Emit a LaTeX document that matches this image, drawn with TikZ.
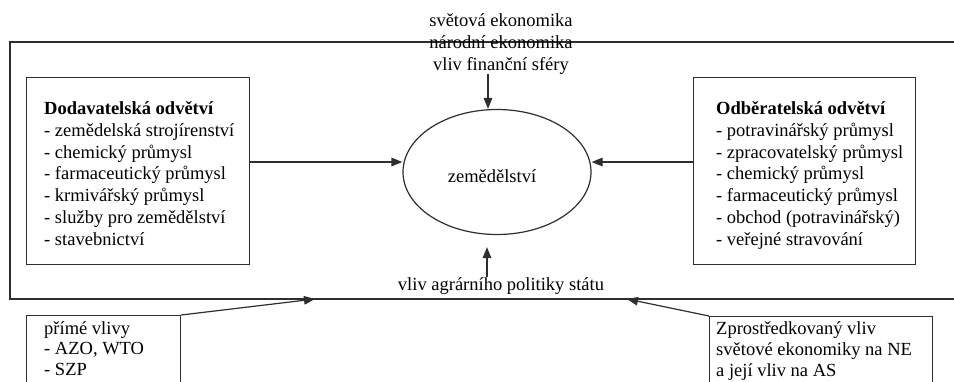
\documentclass[tikz,border=0pt]{standalone}
\usepackage{fontspec}
\setmainfont{Liberation Serif}
\usetikzlibrary{arrows.meta,shapes.geometric,calc}
\begin{document}
\begin{tikzpicture}[x=1pt,y=-1pt,
  ln/.style={draw=black!82,line width=1.2pt},
  arr/.style={ln,-{Triangle[length=11pt,width=8.5pt]}},
  box/.style={ln,rectangle,inner sep=0pt,anchor=north west},
  % multi-line text nodes are anchored at the baseline of their last line
  txt/.style={inner sep=0pt,anchor=base west,align=left,
    font=\fontsize{18.5}{21.7}\selectfont},
  ctxt/.style={txt,anchor=base,align=center},
]
\clip (0,0) rectangle (954,381);
\fill[white] (0,0) rectangle (954,381);

% outer frame (open to the right)
\draw[ln] (954,42) -- (10,42) -- (10,299) -- (954,299);
\coordinate (fl) at (315,299);
\coordinate (fr) at (627,299);

% central node
\node[ellipse,ln,inner sep=0pt,minimum width=188pt,minimum height=125pt] (el) at (497,172) {};
\node[ctxt] (agri) at (492,182) {zemědělství};

% supplier branches
\node[box,minimum width=223pt,minimum height=187pt] (sup) at (26,77) {};
\node[txt] (supT) at (44,245) {\textbf{Dodavatelská odvětví}\\
- zemědelská strojírenství\\
- chemický průmysl\\
- farmaceutický průmysl\\
- krmivářský průmysl\\
- služby pro zemědělství\\
- stavebnictví};

% customer branches
\node[box,minimum width=222pt,minimum height=187pt] (cus) at (693,77) {};
\node[txt] (cusT) at (716,245) {\textbf{Odběratelská odvětví}\\
- potravinářský průmysl\\
- zpracovatelský průmysl\\
- chemický průmysl\\
- farmaceutický průmysl\\
- obchod (potravinářský)\\
- veřejné stravování};

% external economy
\node[ctxt] (ext) at (501,70) {světová ekonomika\\národní ekonomika\\vliv finanční sféry};

% state policy
\node[ctxt] (pol) at (501,290) {vliv agrárního politiky státu};

% direct and mediated influences
\node[box,minimum width=154pt,minimum height=120pt] (dir) at (26,315) {};
\node[txt,font=\fontsize{18.5}{20.5}\selectfont] (dirT) at (44,375) {přímé vlivy\\- AZO, WTO\\- SZP};
\node[box,minimum width=223pt,minimum height=120pt] (med) at (709,316) {};
\node[txt,font=\fontsize{18.5}{20.8}\selectfont] (medT) at (716,376) {Zprostředkovaný vliv\\světové ekonomiky na NE\\a její vliv na AS};

% connectors
\draw[arr] (sup.east |- 0,162) -- (el.west |- 0,162);
\draw[arr] (cus.west |- 0,162) -- (el.east |- 0,162);
\draw[arr] (ext.south -| 488,0) -- (el.north -| 488,0);
\draw[arr] (pol.north -| 487,0) -- ($(el.south -| 487,0)+(0,12)$);
\draw[arr] (dir.north east) -- (fl);
\draw[arr] (med.north west) -- (fr);
\end{tikzpicture}
\end{document}
